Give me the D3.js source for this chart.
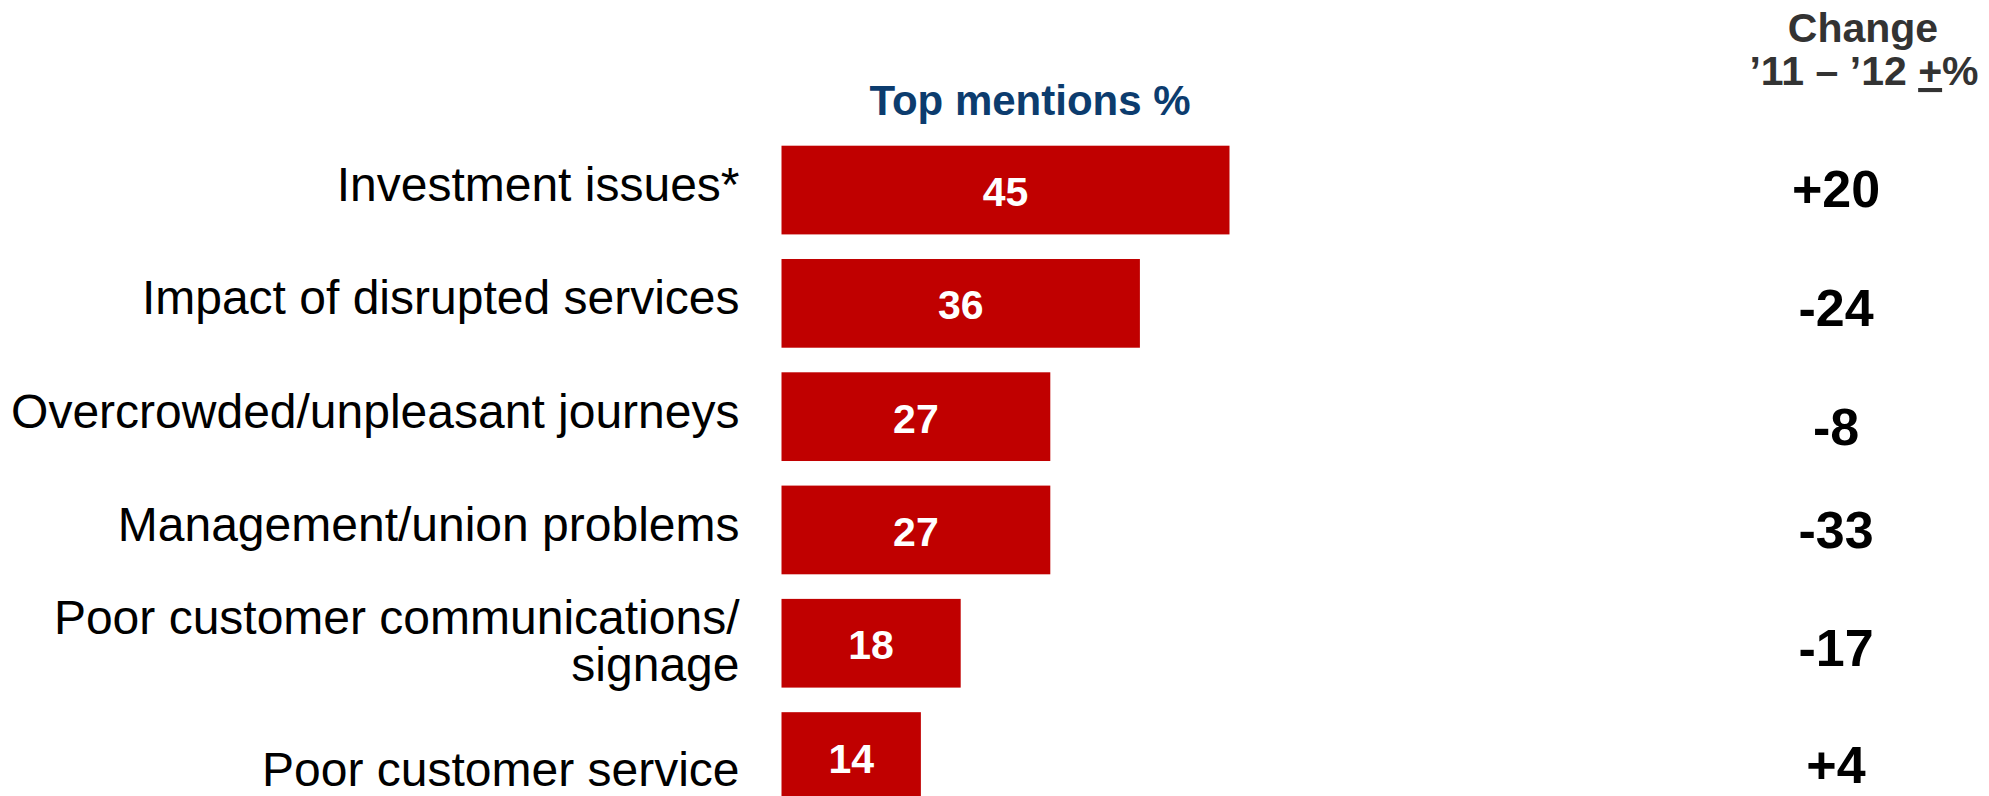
<!DOCTYPE html>
<html>
<head>
<meta charset="utf-8">
<script src="https://cdn.jsdelivr.net/npm/d3@7"></script>
<style>
  html, body { margin: 0; padding: 0; background: #fff; overflow: hidden; }
  svg { display: block; font-family: "Liberation Sans", Arial, Helvetica, sans-serif; }
</style>
</head>
<body>
<script>
// Problem areas, share of top mentions and year-on-year change
const categories = [
  "Investment issues*",
  "Impact of disrupted services",
  "Overcrowded/unpleasant journeys",
  "Management/union problems",
  "Poor customer communications/\nsignage",
  "Poor customer service"
];
const topMentions = [45, 36, 27, 27, 18, 14];
const change = ["+20", "-24", "-8", "-33", "-17", "+4"];

const barTitle = "Top mentions %";
const changeTitle = ["Change", "\u201911 \u2013 \u201912 ", "+", "%"];

const W = 1989, H = 796;
const svg = d3.select("body").append("svg")
  .attr("width", W).attr("height", H);

const y = d3.scaleBand()
  .domain(categories)
  .range([145.7, 800.9])
  .paddingInner(0.217)
  .paddingOuter(0);

const x = d3.scaleLinear()
  .domain([0, 45])
  .range([781.5, 1229.5]);

// small vertical nudges for the row texts
const labelDy = [0, 0, 0, 0, 3, 18];
const changeDy = [-5, 1, 6, -4, 1, 4];

// bars
svg.append("g").selectAll("rect")
  .data(categories)
  .join("rect")
  .attr("x", x(0))
  .attr("y", d => y(d))
  .attr("width", (d, i) => x(topMentions[i]) - x(0))
  .attr("height", y.bandwidth())
  .attr("fill", "#c00000");

// values inside the bars
svg.append("g").selectAll("text")
  .data(categories)
  .join("text")
  .attr("x", (d, i) => (x(0) + x(topMentions[i])) / 2)
  .attr("y", d => y(d) + y.bandwidth() / 2 + 16)
  .attr("text-anchor", "middle")
  .attr("font-size", 41)
  .attr("font-weight", "bold")
  .attr("fill", "#ffffff")
  .text((d, i) => topMentions[i]);

// category labels, right aligned left of the bars
const labels = svg.append("g").selectAll("text")
  .data(categories)
  .join("text")
  .attr("text-anchor", "end")
  .attr("font-size", 48)
  .attr("fill", "#000");

labels.each(function(d, i) {
  const lines = d.split("\n");
  const cy = y(d) + y.bandwidth() / 2 + labelDy[i];
  const lh = 47;
  const first = cy + 11 - (lines.length - 1) * lh / 2;
  d3.select(this).selectAll("tspan")
    .data(lines)
    .join("tspan")
    .attr("x", 739.5)
    .attr("y", (l, k) => first + k * lh)
    .text(l => l);
});

// bar column heading
svg.append("text")
  .attr("x", 1030)
  .attr("y", 115)
  .attr("text-anchor", "middle")
  .attr("font-size", 42)
  .attr("font-weight", "bold")
  .attr("fill", "#0c3c6e")
  .text(barTitle);

// change column heading
const head = svg.append("g")
  .attr("font-size", 41)
  .attr("font-weight", "bold")
  .attr("fill", "#333333")
  .attr("text-anchor", "middle");

head.append("text")
  .attr("x", 1863)
  .attr("y", 42)
  .text(changeTitle[0]);

const h2 = head.append("text")
  .attr("x", 1864)
  .attr("y", 85);
h2.append("tspan").text(changeTitle[1]);
h2.append("tspan").style("text-decoration", "underline").text(changeTitle[2]);
h2.append("tspan").text(changeTitle[3]);

// change values
svg.append("g").selectAll("text")
  .data(categories)
  .join("text")
  .attr("x", 1836)
  .attr("y", (d, i) => y(d) + y.bandwidth() / 2 + 22 + changeDy[i])
  .attr("text-anchor", "middle")
  .attr("font-size", 52)
  .attr("font-weight", "bold")
  .attr("fill", "#000")
  .text((d, i) => change[i]);
</script>
</body>
</html>
